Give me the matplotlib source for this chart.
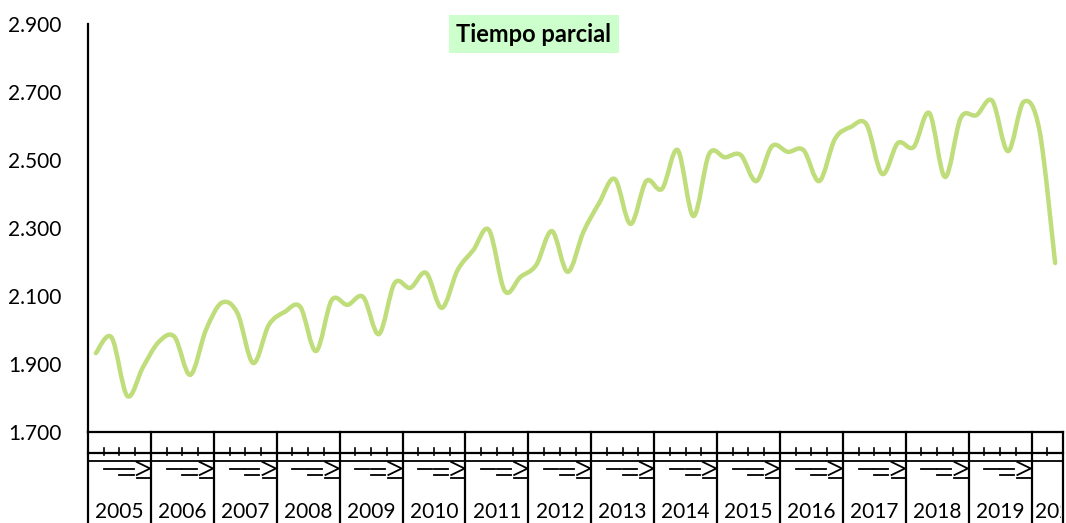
import matplotlib
matplotlib.use('Agg')
import matplotlib.pyplot as plt
import numpy as np
from matplotlib.path import Path
from matplotlib.patches import PathPatch, Rectangle
from matplotlib.ticker import FuncFormatter
import matplotlib.transforms as mtransforms

plt.rcParams['font.family'] = ['Lato', 'DejaVu Sans']

titulo = 'Tiempo parcial'
anios = ['2005', '2006', '2007', '2008', '2009', '2010', '2011', '2012',
         '2013', '2014', '2015', '2016', '2017', '2018', '2019', '2020']
# valores trimestrales (miles), 2005T1 .. 2020T2
valores = [1.932, 1.978, 1.806, 1.891,
           1.965, 1.980, 1.868, 2.000,
           2.080, 2.050, 1.903, 2.015,
           2.053, 2.068, 1.938, 2.088,
           2.074, 2.097, 1.988, 2.138,
           2.124, 2.168, 2.065, 2.176,
           2.235, 2.294, 2.115, 2.156,
           2.191, 2.291, 2.171, 2.288,
           2.373, 2.444, 2.312, 2.438,
           2.415, 2.529, 2.335, 2.518,
           2.508, 2.515, 2.438, 2.541,
           2.524, 2.529, 2.438, 2.562,
           2.597, 2.605, 2.459, 2.550,
           2.538, 2.638, 2.450, 2.624,
           2.632, 2.674, 2.526, 2.671,
           2.588, 2.197]
yticks = [1.7, 1.9, 2.1, 2.3, 2.5, 2.7, 2.9]

W, H = 1066, 523
fig = plt.figure(figsize=(W/100, H/100), dpi=100)
ax = fig.add_axes([88/W, 1-432/H, (1063-88)/W, (432-24)/H])

n = len(valores)
x = np.arange(n) + 0.5
y = np.array(valores)

# linea suavizada (Bezier tipo Excel)
verts = [(x[0], y[0])]
codes = [Path.MOVETO]
for i in range(n-1):
    p0 = np.array([x[max(i-1, 0)], y[max(i-1, 0)]])
    p1 = np.array([x[i], y[i]])
    p2 = np.array([x[i+1], y[i+1]])
    p3 = np.array([x[min(i+2, n-1)], y[min(i+2, n-1)]])
    c1 = p1 + (p2 - p0)/6
    c2 = p2 - (p3 - p1)/6
    verts += [tuple(c1), tuple(c2), tuple(p2)]
    codes += [Path.CURVE4]*3
ax.add_patch(PathPatch(Path(verts, codes), facecolor='none', edgecolor='#BFDD7B',
                       lw=3.2, capstyle='round', joinstyle='round', zorder=3))

ax.set_xlim(0, n)
ax.set_ylim(1.7, 2.9)
ax.set_yticks(yticks)
ax.yaxis.set_major_formatter(FuncFormatter(lambda v, p: f'{v:.3f}'))
ax.tick_params(axis='y', length=0, pad=19, labelsize=15)
ax.set_xticks([])
for s in ['top', 'right']:
    ax.spines[s].set_visible(False)
ax.spines['left'].set_linewidth(1.6)
ax.spines['bottom'].set_linewidth(1.6)

# eje de categorias de varios niveles
tr = mtransforms.blended_transform_factory(ax.transData, ax.transAxes)
def py(pix):
    return (432 - pix) / 408.0
kw = dict(transform=tr, clip_on=False, color='black')
ax.plot([0, n], [py(453)]*2, lw=1.6, **kw)
ax.plot([n, n], [0, py(523)], lw=1.6, **kw)
recorte = Rectangle((0, 0), 1061/W, 1, transform=fig.transFigure)
for k, a in enumerate(anios):
    x0 = 4*k
    x1 = min(4*k + 4, n)
    ax.plot([x0, x0], [0, py(523)], lw=1.6, **kw)
    for q in range(1, 4):
        if x0 + q < x1:
            ax.plot([x0+q, x0+q], [py(448), py(455)], lw=1.2, **kw)
    ax.plot([x0, x1], [py(461)]*2, lw=1.3, **kw)
    if x1 - x0 == 4:
        ax.plot([x0+1, x0+1.9], [py(468.5)]*2, lw=1.3, **kw)
        ax.plot([x0+2, x0+2.9], [py(468.5)]*2, lw=1.3, **kw)
        ax.plot([x0+2, x0+2.9], [py(474.5)]*2, lw=1.3, **kw)
        ax.plot([x0+3.1, x0+3.95, x0+3.1], [py(462), py(468.5), py(475)], lw=1.3, **kw)
        ax.plot([x0+3.1, x0+3.95], [py(478)]*2, lw=1.3, **kw)
        ax.text(x0+2, py(512), a, ha='center', va='center', fontsize=15, **kw)
    else:
        t = ax.text(x0+0.2, py(512), a, ha='left', va='center', fontsize=15,
                    transform=tr, color='black')
        t.set_clip_path(recorte)
        t.set_clip_on(True)

fig.text(534/W, 1-34/H, titulo, ha='center', va='center', fontsize=17, fontweight='bold',
         bbox=dict(boxstyle='square,pad=0.3', facecolor='#CCFFCC', edgecolor='none'))

fig.savefig('out.png', dpi=100)
